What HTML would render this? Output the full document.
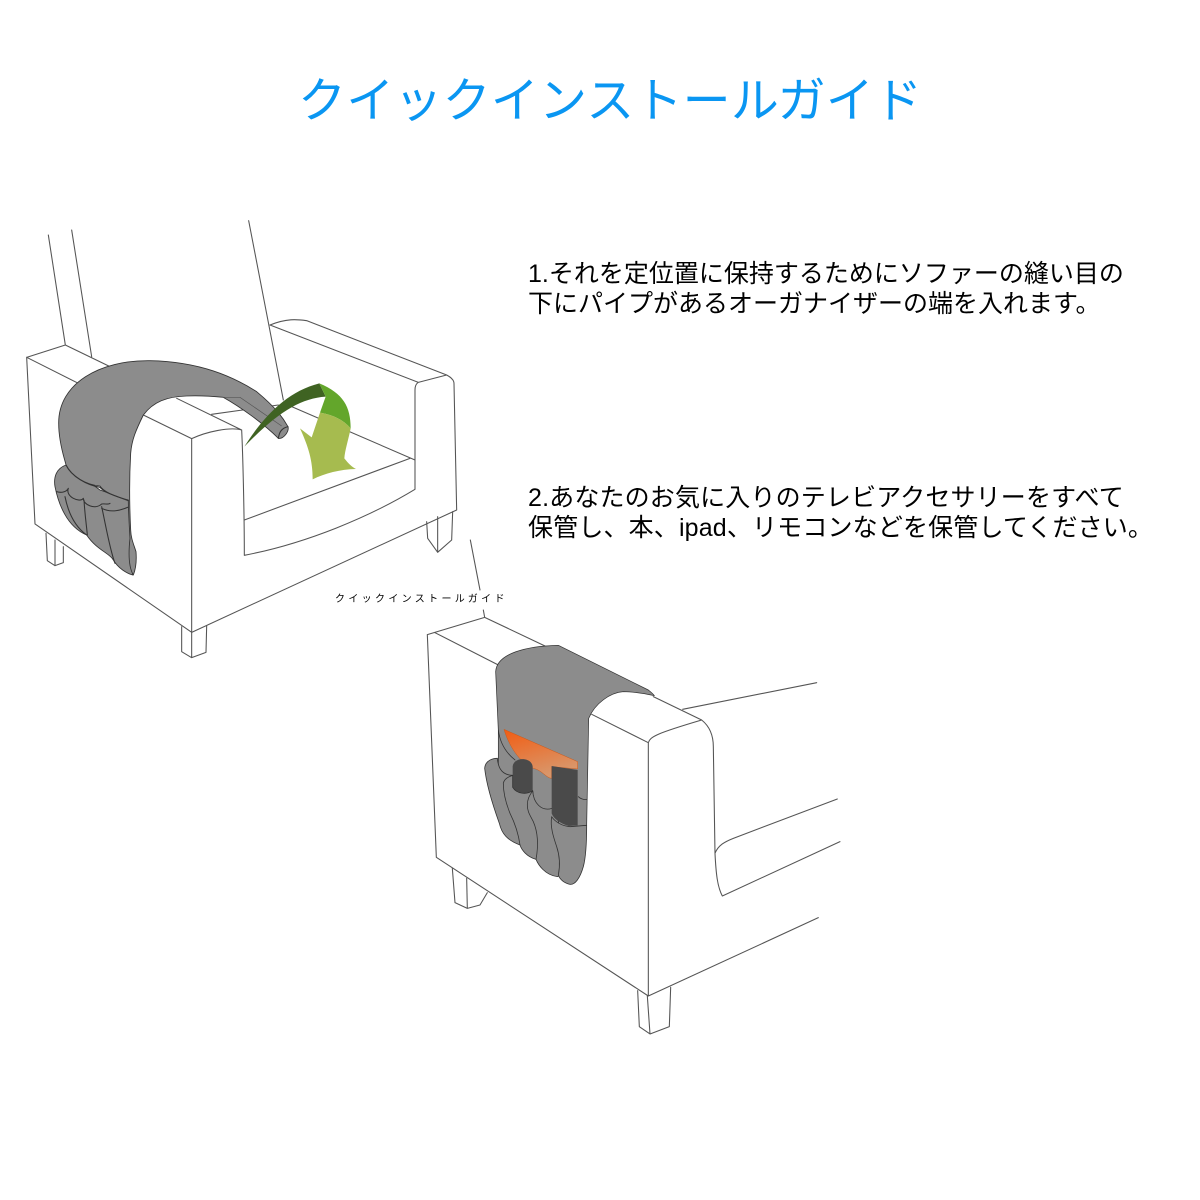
<!DOCTYPE html>
<html lang="ja"><head><meta charset="utf-8">
<style>
html,body{margin:0;padding:0;background:#fff}
#p{position:relative;width:1200px;height:1200px;overflow:hidden;background:#fff;font-family:"Liberation Sans","Noto Sans CJK JP",sans-serif}
.t{position:absolute;white-space:nowrap;margin:0}
svg{position:absolute;left:0;top:0}
.l{fill:none;stroke:#555;stroke-width:3.2;stroke-linejoin:round;stroke-linecap:round}
.g{fill:#8c8c8c;stroke:#333;stroke-width:2.6;stroke-linejoin:round}
.d{fill:#4a4a4a;stroke:none}
</style></head><body><div id="p">
<svg width="1200" height="1200" viewBox="0 0 1200 1200">
<defs><linearGradient id="o" x1="0" y1="0" x2="0.4" y2="1"><stop offset="0" stop-color="#f25c12"/><stop offset="1" stop-color="#d9966a"/></linearGradient></defs>
<g transform="translate(0,210) scale(.33333)">
<path class="l" d="M145,75L196,405M215,60L275,440M746,32L850,570M80,442L196,405L330,470M80,442L235,520M530,565L725,660M430,615L575,686M80,442L105,942L575,1267M575,686V1267M575,686C620,665 690,650 725,660C728,720 733,900 733,1036M733,930L1230,745M733,1036C920,1000 1110,920 1245,838V540C1245,525 1250,520 1255,517L810,345C860,325 890,328 920,332L1340,495C1355,503 1362,512 1362,520L1370,900L575,1267M1255,517L1340,495M1245,750L875,590M635,613L835,585"/>
<path class="l" d="M138,970L142,1052L165,1067L190,1058V1010M165,1067V990M545,1250V1325L575,1343L618,1327L620,1248M575,1267V1343M1280,935L1283,985L1313,1027L1355,990L1358,905M1313,920V1027"/>
<path class="g" d="M198,765C170,775 160,800 165,830C175,880 200,950 260,975C290,1020 330,1030 340,1050C355,1075 380,1090 398,1095L385,870L300,840Z"/>
<path class="l" style="stroke:#333" d="M170,845C185,850 200,845 205,835C195,860 240,880 250,865C250,885 285,900 305,882C315,880 325,885 330,880M195,860C205,910 225,950 260,975M252,870C255,920 260,950 262,975M305,890C320,960 330,1020 345,1060M305,895C335,910 365,900 388,890"/>
<path class="g" d="M400,1095C408,1075 410,1050 408,1025C400,1000 393,985 392,960C388,880 388,800 392,730C395,690 408,660 430,615C460,575 500,560 560,558C610,556 650,560 670,562C720,590 790,640 835,685C850,688 868,665 864,650C850,625 830,595 770,545C700,500 600,455 450,452C300,450 175,520 176,640C176,700 195,750 198,765C215,800 260,825 300,828C310,845 345,860 385,870C385,900 388,950 390,985C385,1030 385,1070 400,1095Z"/>
<path class="l" style="stroke:#333" d="M198,765C215,800 260,825 300,832C315,850 350,858 385,872M835,685C838,665 845,655 864,650"/>
<path d="M670,562L720,562L845,648" fill="none" stroke="#555" stroke-width="2"/>
<path d="M733,710C790,620 860,545 958,520L977,560C900,565 830,610 733,710Z" fill="#3f6322"/>
<path d="M958,520C1030,550 1052,590 1052,655C1030,630 1000,615 960,608L977,560Z" fill="#63a62b"/>
<path d="M960,608C1000,615 1030,630 1052,655C1045,690 1035,720 1033,745C1045,760 1055,770 1068,777C1020,778 975,790 938,808C938,750 925,710 900,655L935,682Z" fill="#a6bb4f"/>
</g>
<g transform="translate(320,530) scale(.33333)">
<path class="l" d="M451,30L480,180M490,240L494,262M322,314L494,262L675,348M345,308L535,405M322,314L349,982L985,1398M985,638V1398M985,638C990,620 1010,610 1145,570M815,553L985,638M1000,500L1145,570C1170,590 1180,620 1180,650L1185,970C1188,1030 1192,1070 1207,1098L1560,935M1185,970C1195,945 1215,935 1240,925L1552,807M1088,538L1490,458M985,1398L1495,1163M397,1015L405,1118L442,1135L480,1125L502,1088M440,1045L442,1135M953,1382L958,1490L990,1512L1048,1490L1052,1372M982,1398L990,1512"/>
</g>
<g transform="translate(470,700) scale(.33333)">
<path class="g" style="stroke-width:2.2" d="M77,-85C80,-140 170,-162 265,-164L535,-30C545,-22 550,-18 553,-13C520,-20 490,-25 460,-25C420,-22 375,10 356,55L350,376L300,420L150,320L85,200L85,90Z"/>
<path d="M102,88L323,185V207L245,200V235C230,235 215,210 190,205C160,195 120,150 102,88Z" fill="url(#o)" stroke="#c9581a" stroke-width="1.5"/>
<path class="l" style="stroke:#333;stroke-width:2.4" d="M85,90C90,130 110,160 135,180M325,290C330,295 340,300 350,298M82,175C82,205 85,215 105,225"/>
<path class="g" style="stroke-width:2.4" d="M44,205C46,180 70,175 82,175C85,210 100,225 128,226L130,300L170,440L150,435C110,420 95,400 88,370C70,320 50,260 44,205Z"/>
<path class="d" d="M128,200C130,170 185,170 188,200V272C170,285 140,280 128,262Z"/>
<path class="g" style="stroke-width:2.4" d="M100,250C102,238 115,230 128,226V262C140,282 170,285 188,272L195,330L230,480L198,478C170,470 155,450 150,435C145,400 135,370 120,340C110,315 100,280 100,250Z"/>
<path class="g" style="stroke-width:2.4" d="M172,315C172,295 180,285 188,272C190,310 215,335 246,325L262,345L290,520L262,530C225,525 205,495 198,478C205,440 205,400 190,365C180,345 172,335 172,315Z"/>
<path class="d" d="M245,198L323,210V376L296,378C270,370 250,355 245,340Z"/>
<path class="g" style="stroke-width:2.4" d="M245,350C255,365 275,378 300,380L350,376C350,420 348,470 340,500C330,535 315,555 300,553C285,550 270,540 265,525C270,500 270,470 260,440C250,410 240,380 245,350Z"/>
</g>
</svg>
<p class="t" style="left:298px;top:67px;font-size:48px;line-height:70px;letter-spacing:.2px;color:#0a96f2;font-weight:400">クイックインストールガイド</p>
<p class="t" style="left:528px;top:259px;font-size:25px;line-height:30px;color:#000">1.それを定位置に保持するためにソファーの縫い目の<br>下にパイプがあるオーガナイザーの端を入れます。</p>
<p class="t" style="left:528px;top:483px;font-size:25px;line-height:30px;letter-spacing:.16px;color:#000">2.あなたのお気に入りのテレビアクセサリーをすべて<br>保管し、本、ipad、リモコンなどを保管してください。</p>
<p class="t" style="left:335px;top:593px;font-size:10px;line-height:14px;letter-spacing:3.33px;color:#000">クイックインストールガイド</p>
</div></body></html>
